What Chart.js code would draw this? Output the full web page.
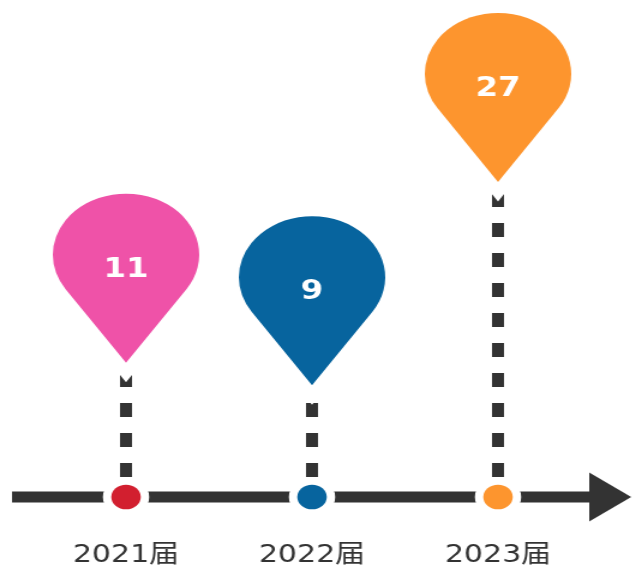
<!DOCTYPE html>
<html><head><meta charset="utf-8">
<script src="https://cdn.jsdelivr.net/npm/chart.js@4"></script>
<style>
html,body{margin:0;padding:0;background:#fff;overflow:hidden;}
#wrap{width:527px;height:572px;transform:scaleX(1.2);transform-origin:0 0;}
</style></head><body>
<div id="wrap"><canvas id="c"></canvas></div>
<script>
const categories = ['2021届', '2022届', '2023届'];
const values = [11, 9, 27];
const pinColors = ['#EF52A8', '#07649E', '#FD952E'];
const dotColors = ['#D21F2F', '#07649E', '#FD952E'];
const yMin = 0;
const yMax = 40;

function pinPath(ctx, x, tipY, r, d) {
  const cy = tipY - d;
  const a = Math.acos(r / d);
  const tx = r * Math.sin(a), ty = r * Math.cos(a);
  const ang = Math.atan2(ty, tx);
  ctx.beginPath();
  ctx.moveTo(x, tipY);
  ctx.lineTo(x + tx, cy + ty);
  ctx.arc(x, cy, r, ang, Math.PI - ang, true);
  ctx.closePath();
}

const timelinePlugin = {
  id: 'timeline',
  afterDatasetsDraw(chart) {
    const ctx = chart.ctx, area = chart.chartArea;
    const ys = chart.scales.y;
    const meta = chart.getDatasetMeta(0);
    const axisY = ys.getPixelForValue(0);
    ctx.save();
    // axis line + arrow
    ctx.fillStyle = '#333333';
    ctx.fillRect(area.left - 17.5, axisY - 5.5, area.right - area.left + 19.5, 11);
    ctx.beginPath();
    ctx.moveTo(area.right - 1.5, axisY - 24.5);
    ctx.lineTo(area.right + 33.5, axisY);
    ctx.lineTo(area.right - 1.5, axisY + 24.5);
    ctx.closePath();
    ctx.fill();
    // dashed connectors
    meta.data.forEach((pt) => {
      const tip = pt.y - 10;
      ctx.strokeStyle = '#333333';
      ctx.lineWidth = 10;
      ctx.lineCap = 'butt';
      ctx.setLineDash([14, 16]);
      ctx.beginPath();
      ctx.moveTo(pt.x, axisY - 20);
      ctx.lineTo(pt.x, tip);
      ctx.stroke();
    });
    ctx.setLineDash([]);
    // pins
    meta.data.forEach((pt, i) => {
      const tip = pt.y - 10;
      pinPath(ctx, pt.x, tip, 61, 108);
      ctx.lineJoin = 'miter';
      ctx.miterLimit = 10;
      ctx.strokeStyle = '#ffffff';
      ctx.lineWidth = 22;
      ctx.stroke();
      ctx.fillStyle = pinColors[i];
      ctx.fill();
      ctx.fillStyle = '#ffffff';
      ctx.font = 'bold 27px "DejaVu Sans"';
      ctx.textAlign = 'center';
      ctx.textBaseline = 'alphabetic';
      ctx.fillText(String(values[i]), pt.x, tip - 96 + 0.3645 * 27);
    });
    // dots on axis
    meta.data.forEach((pt, i) => {
      ctx.beginPath();
      ctx.arc(pt.x, axisY, 12.3, 0, Math.PI * 2);
      ctx.strokeStyle = '#ffffff';
      ctx.lineWidth = 14;
      ctx.stroke();
      ctx.fillStyle = dotColors[i];
      ctx.fill();
    });
    ctx.restore();
  }
};

new Chart(document.getElementById('c'), {
  type: 'line',
  data: {
    labels: categories,
    datasets: [{
      data: values,
      showLine: false,
      pointRadius: 0,
      pointHoverRadius: 0,
      borderWidth: 0
    }]
  },
  options: {
    responsive: true,
    maintainAspectRatio: false,
    animation: false,
    events: [],
    layout: { padding: { left: 27.5, right: 34.5, top: 45, bottom: 0 } },
    plugins: { legend: { display: false }, tooltip: { enabled: false } },
    scales: {
      x: {
        offset: true,
        grid: { display: false, drawTicks: false },
        border: { display: false },
        afterFit: (s) => { s.height = 75; },
        ticks: {
          padding: 43,
          color: '#333333',
          font: { family: '"DejaVu Sans", "Noto Sans CJK SC"', size: 25 }
        }
      },
      y: { display: false, min: yMin, max: yMax }
    }
  },
  plugins: [timelinePlugin]
});
</script>
</body></html>
